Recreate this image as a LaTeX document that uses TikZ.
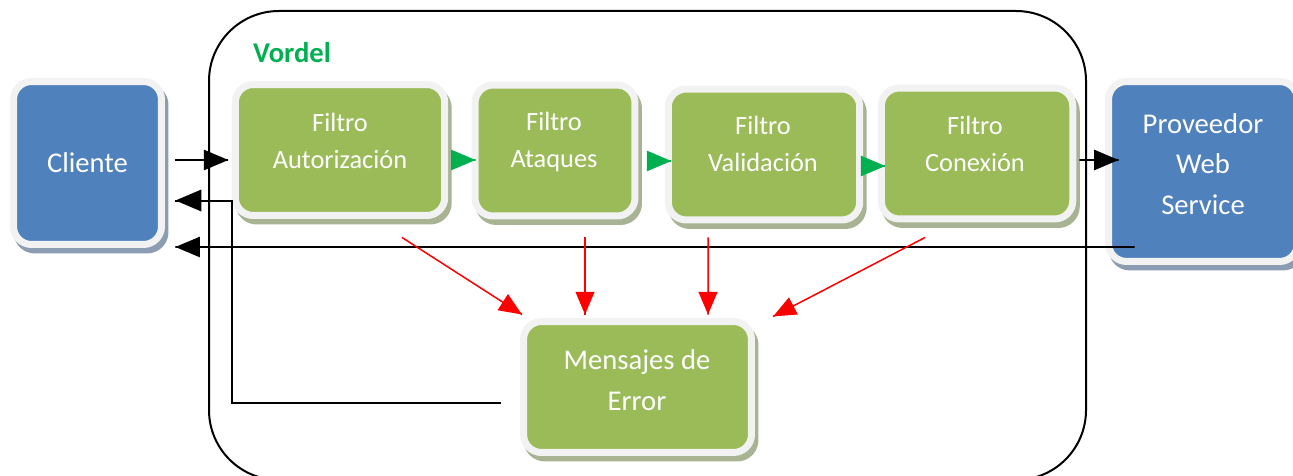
\documentclass[tikz,border=0pt]{standalone}
\usepackage{fontspec}
\setmainfont{Carlito}
\usetikzlibrary{arrows}
\usetikzlibrary{calc}
\usetikzlibrary{decorations.markings}
\definecolor{cblue}{HTML}{4F81BD}
\definecolor{cgreen}{HTML}{9BBB59}
\definecolor{frame}{HTML}{F2F2F2}
\definecolor{gshade}{HTML}{A7B393}
\definecolor{bshade}{HTML}{8C9CB3}
\definecolor{vgreen}{HTML}{00B050}
\newcommand\mainsize{\fontsize{16.3}{23.2}\selectfont}
\newcommand\filtersize{\fontsize{15}{21}\selectfont}
\tikzset{flow/.style = {decoration={markings,
                                    mark=at position 1 with {\arrow[scale=1.6]{triangle 45}}},
                        postaction={decorate}}}
\tikzset{box/.style n args = {2}{fill=#1, draw=frame, line width=0.14cm,
                                 rounded corners=0.36cm, inner sep=0pt,
                                 text=white, font=\mainsize,
                                 preaction={draw=#2, fill=#2,
                                            transform canvas={xshift=0.07cm, yshift=-0.11cm}}}}
\tikzset{filtertext/.style = {text=white, align=center, font=\filtersize}}
\tikzset{bigtext/.style = {text=white, align=center, font=\mainsize}}

\begin{document}
\begin{tikzpicture}[x=0.02cm, y=-0.02cm]
      \useasboundingbox (0, 0) rectangle (1293, 476);

      \draw [line width=0.04cm, rounded corners=1.4cm] (209, 11) rectangle (1086, 480);
      \node [anchor=west, text=vgreen, font=\bfseries\mainsize] (vordel) at (247, 53) {Vordel};

      \node [box={cblue}{bshade}, minimum width=2.96cm, minimum height=3.26cm] (cliente) at (87.5, 163) {Cliente};
      \node [box={cgreen}{gshade}, minimum width=4.19cm, minimum height=2.62cm] (auth) at (340, 150) {};
      \node [box={cgreen}{gshade}, minimum width=3.2cm, minimum height=2.62cm] (ataques) at (555, 150.5) {};
      \node [box={cgreen}{gshade}, minimum width=3.83cm, minimum height=2.62cm] (valid) at (764, 154.5) {};
      \node [box={cgreen}{gshade}, minimum width=3.83cm, minimum height=2.62cm] (conex) at (977, 153.5) {};
      \node [box={cblue}{bshade}, minimum width=3.78cm, minimum height=3.6cm] (prov) at (1203, 171.5) {};
      \node [box={cgreen}{gshade}, minimum width=4.56cm, minimum height=2.62cm] (msg) at (637.5, 387) {};

      \node [filtertext] (auth-t) at (340, 140.5) {Filtro\\Autorización};
      \node [filtertext] (ataques-t) at (554, 142) {Filtro\\Ataques};
      \node [filtertext] (valid-t) at (763, 144) {Filtro\\Validación};
      \node [filtertext] (conex-t) at (975, 144) {Filtro\\Conexión};
      \node [bigtext] (prov-t) at (1203, 164) {Proveedor\\Web\\Service};
      \node [bigtext] (msg-t) at (637, 380) {Mensajes de\\Error};

      \draw [flow, line width=0.035cm] ($(cliente.east) + (10, -3)$) -- ($(auth.west) + (-3.5, 10)$);
      \draw [flow, vgreen, line width=0.035cm] ($(auth.east) + (7, 10)$) -- ($(ataques.west) + (4, 9.5)$);
      \draw [flow, vgreen, line width=0.035cm] ($(ataques.east) + (10, 10.5)$) -- ($(valid.west) + (6.5, 6.5)$);
      \draw [flow, vgreen, line width=0.035cm] ($(valid.east) + (2, 11.5)$) -- ($(conex.west) + (7.5, 12.5)$);
      \draw [flow, line width=0.035cm] ($(conex.east) + (3, 6.5)$) -- ($(prov.west) + (13.5, -11.5)$);

      \draw [flow, line width=0.035cm] ($(prov.west) + (29.5, 75.5)$) -- ($(cliente.east) + (10.5, 84)$);
      \draw [flow, line width=0.04cm] ($(msg.west) + (-19.5, 16)$) -| ($(cliente.east) + (67.5, 37.5)$)
            -- ($(cliente.east) + (10.5, 37.5)$);

      \foreach \f/\dx/\dy/\tx/\ty in {auth/62/18.5/-115.5/-3.5, ataques/30/18/-52.5/-3.5,
                                      valid/-56/14/70.5/-3.5, conex/-52/15/135.5/-1.5} {
        \draw [flow, red, line width=0.03cm] ($(\f.south) + (\dx, \dy)$) -- ($(msg.north) + (\tx, \ty)$);
      }
    \end{tikzpicture}
\end{document}
